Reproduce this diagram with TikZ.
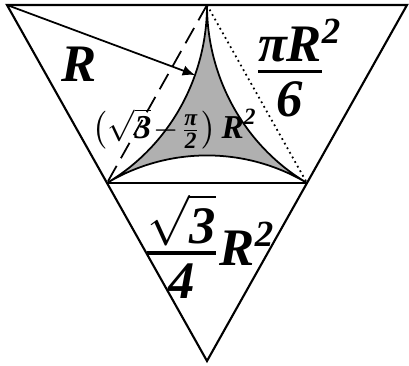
\documentclass[tikz,border=0pt]{standalone}
\usepackage{amsmath}
\usepackage{fontspec}
\setmainfont{Liberation Serif}
\usetikzlibrary{arrows.meta}

\begin{document}
\begin{tikzpicture}[
    big/.style={
        font=\fontsize{15}{18}\selectfont\bfseries\itshape,
        inner sep=0pt
    },
    small/.style={
        font=\fontsize{9.5}{11}\selectfont\bfseries\itshape,
        inner sep=0pt
    },
    edge/.style={line width=0.6pt},
    thin_edge/.style={line width=0.5pt},
    lens/.style={
        fill=gray!62,
        draw=black,
        line width=0.5pt
    }
]

    \useasboundingbox (0,0) rectangle (4.09,3.66);

    % Corners and midpoints
    \coordinate (A) at (0.07,3.61);
    \coordinate (B) at (4.07,3.61);
    \coordinate (C) at (2.07,0.05);
    \coordinate (AB) at (2.07,3.61);
    \coordinate (AC) at (1.07,1.83);
    \coordinate (BC) at (3.07,1.83);
    \coordinate (tip) at (1.95,2.91);

    % Shaded region between the three arcs
    \filldraw[lens] (AB)
        arc[start angle=0, end angle=-60, x radius=2, y radius=2.055]
        arc[start angle=120, end angle=60, x radius=2, y radius=2.055]
        arc[start angle=240, end angle=180, x radius=2, y radius=2.055]
        -- cycle;

    % Inner triangle
    \draw[edge] (AC) -- (BC);
    \draw[thin_edge, dash pattern=on 5pt off 2.5pt] (AB) -- (AC);
    \draw[thin_edge, densely dotted] (AB) -- (BC);

    % Outer triangle
    \draw[edge] (A) -- (B) -- (C) -- cycle;

    % Radius
    \draw[thin_edge, -{Latex[length=3.5pt, width=3pt]}] (A) -- (tip);

    % Labels
    \node[big] (radius) at (0.79,3.02) {R};
    \node[big] (sector) at (2.90,2.98)
        {$\genfrac{}{}{0.9pt}{1}{\mbox{πR\rule[-1.5pt]{0pt}{1.5pt}}\rlap{\textsuperscript{2}}}{\mbox{\rule{0pt}{11.5pt}6}}$};
    \node[big] (triangle) at (2.09,1.20)
        {$\genfrac{}{}{0.9pt}{1}{\displaystyle\sqrt{\mbox{3}}\rule[-1.5pt]{0pt}{1.5pt}}{\mbox{\rule{0pt}{11.5pt}4}}\mbox{R}^{\text{2}}$};
    \node[small] (shaded) at (1.75,2.37)
        {$\bigl(\sqrt{\mbox{3}}\!-\!\genfrac{}{}{0.4pt}{1}{\text{π}}{\text{2}}\bigr)\,\mbox{R}^{\text{2}}$};

\end{tikzpicture}
\end{document}
